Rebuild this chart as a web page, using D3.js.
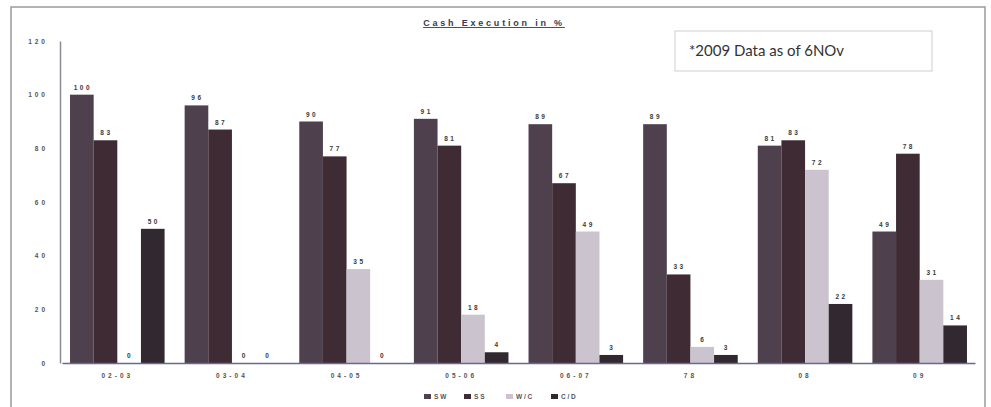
<!DOCTYPE html>
<html>
<head>
<meta charset="utf-8">
<script src="https://cdn.jsdelivr.net/npm/d3@7"></script>
<style>
  body { margin: 0; background: #fff; }
  svg { display: block; font-family: "Liberation Sans", Arial, sans-serif; }
</style>
</head>
<body>
<div id="chart"></div>
<script>
const categories = ["02-03", "03-04", "04-05", "05-06", "06-07", "78", "08", "09"]
const seriesNames = ["SW", "SS", "W/C", "C/D"]
const swValues = [100, 96, 90, 91, 89, 89, 81, 49]
const ssValues = [83, 87, 77, 81, 67, 33, 83, 78]
const wcValues = [0, 0, 35, 18, 49, 6, 72, 31]
const cdValues = [50, 0, 0, 4, 3, 3, 22, 14]
const yTicks = [0, 20, 40, 60, 80, 100, 120]
const colors = ["#4e404d", "#3e2b33", "#cbc4ce", "#31292f"]

const W = 991, H = 407
const margin = {left: 60, right: 16, top: 41, bottom: 44}

const svg = d3.select("#chart").append("svg").attr("width", W).attr("height", H)

// scanned page frame
svg.append("rect").attr("x", 11).attr("y", 7).attr("width", 974).attr("height", 410)
  .attr("fill", "#fff").attr("stroke", "#9a9aa0").attr("stroke-width", 1.5)

svg.append("text").attr("x", 494).attr("y", 26).attr("text-anchor", "middle")
  .style("font-size", "9px").style("font-weight", "bold").style("letter-spacing", "2.8px")
  .style("text-decoration", "underline").attr("fill", "#3a3a4e")
  .text("Cash Execution in %")

svg.append("rect").attr("x", 675).attr("y", 31).attr("width", 257).attr("height", 40)
  .attr("fill", "#fff").attr("stroke", "#cfcfd4")
svg.append("text").attr("x", 689).attr("y", 56)
  .style("font-family", "Lato, 'Open Sans', sans-serif").style("font-size", "15px").attr("fill", "#333")
  .text("*2009 Data as of 6NOv")

const x0 = d3.scaleBand().domain(categories).range([margin.left + 2, W - margin.right])
  .paddingInner(0.175).paddingOuter(0.07)
const x1 = d3.scaleBand().domain(seriesNames).range([0, x0.bandwidth()])
const y = d3.scaleLinear().domain([0, 120]).range([H - margin.bottom, margin.top])

const rows = categories.map((c, i) => ({
  cat: c,
  vals: [swValues[i], ssValues[i], wcValues[i], cdValues[i]]
}))

// y axis
const yAxis = svg.append("g").attr("transform", `translate(${margin.left},0)`)
  .call(d3.axisLeft(y).tickValues(yTicks).tickSize(0).tickPadding(12))
yAxis.select(".domain").attr("stroke", "#8a8a98").attr("stroke-width", 1.5)
yAxis.selectAll("text").style("font-size", "6.5px").style("font-weight", "bold")
  .style("letter-spacing", "3px").attr("fill", "#555")

const groups = svg.append("g").selectAll("g").data(rows).join("g")
  .attr("transform", d => `translate(${x0(d.cat)},0)`)

groups.selectAll("rect").data(d => d.vals).join("rect")
  .attr("x", (v, i) => x1(seriesNames[i]))
  .attr("width", x1.bandwidth())
  .attr("y", v => y(v))
  .attr("height", v => y(0) - y(v))
  .attr("fill", (v, i) => colors[i])

groups.selectAll("text").data(d => d.vals).join("text")
  .attr("x", (v, i) => x1(seriesNames[i]) + x1.bandwidth() / 2 + 1)
  .attr("y", v => y(v) - 5)
  .attr("text-anchor", "middle")
  .style("font-size", "6.5px").style("font-weight", "bold").style("letter-spacing", "2.5px")
  .attr("fill", "#3a3a3a")
  .text(v => v)

// x axis
const xAxis = svg.append("g").attr("transform", `translate(0,${y(0)})`)
  .call(d3.axisBottom(x0).tickSize(0).tickPadding(10))
xAxis.select(".domain").attr("stroke", "#6a6a90").attr("stroke-width", 1.5)
xAxis.selectAll("text").style("font-size", "6.5px").style("font-weight", "bold")
  .style("letter-spacing", "3px").attr("fill", "#555")

// legend
const legend = svg.append("g").attr("transform", "translate(424,399)")
const legendX = [0, 40, 82, 127]
const item = legend.selectAll("g").data(seriesNames).join("g")
  .attr("transform", (d, i) => `translate(${legendX[i]},0)`)
item.append("rect").attr("x", 0).attr("y", -5).attr("width", 7).attr("height", 5)
  .attr("fill", (d, i) => colors[i])
item.append("text").attr("x", 10).attr("y", 0)
  .style("font-size", "6.5px").style("font-weight", "bold").style("letter-spacing", "1.8px")
  .attr("fill", "#555").text(d => d)
</script>
</body>
</html>
